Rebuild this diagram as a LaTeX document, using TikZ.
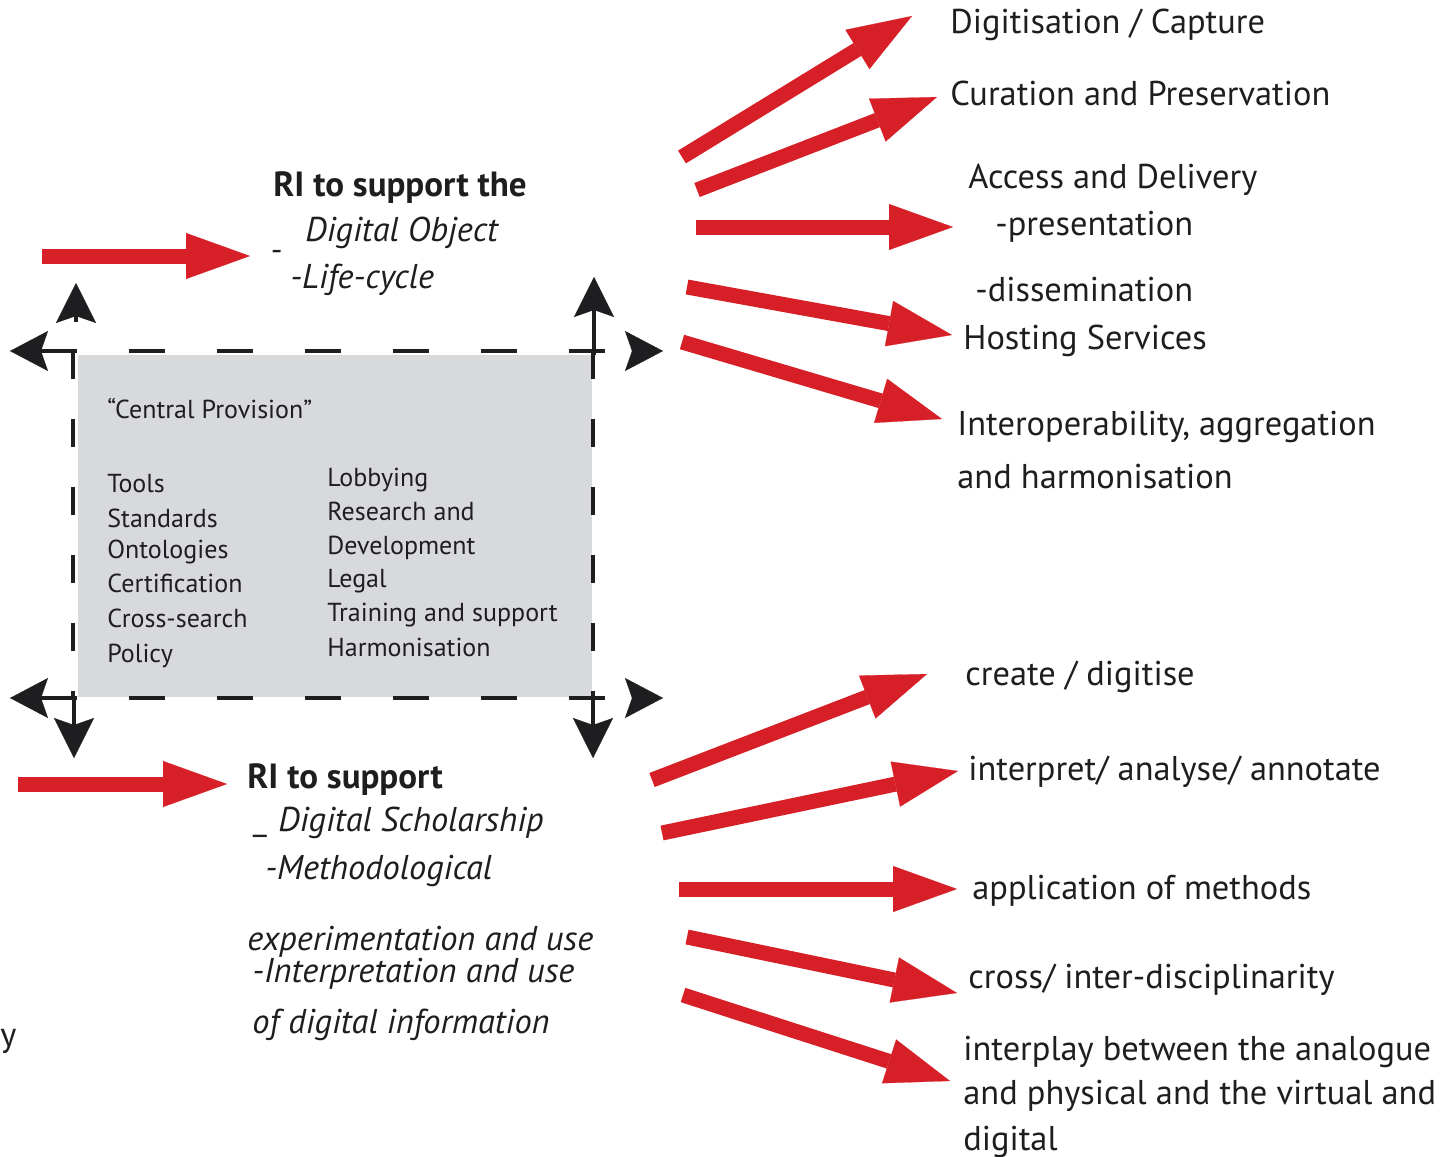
\documentclass[tikz,border=0pt]{standalone}
\usepackage{fontspec}
\setmainfont{PT Sans}
\usetikzlibrary{arrows.meta}
\definecolor{arrowred}{RGB}{215,31,39}
\definecolor{panelgrey}{RGB}{216,217,219}
\definecolor{ink}{RGB}{30,30,32}
\begin{document}
\begin{tikzpicture}[x=0.5pt,y=-0.5pt,
  redarrow/.style={draw=arrowred, line width=7.5pt,
    -{Triangle[length=32pt,width=23pt,line width=0.1pt,fill=arrowred]}},
  blkline/.style={draw=ink, line width=1.7pt},
  hdash/.style={blkline, dash pattern=on 18pt off 26pt},
  vdash/.style={blkline, dash pattern=on 14pt off 20pt},
  blkhead/.style={Stealth[length=20pt,width=20pt,inset=3.5pt,line width=0.1pt]},
  blktip/.style={blkline, -{Stealth[length=20pt,width=20pt,inset=3.5pt,line width=0.1pt]}},
  blktips/.style={hdash, {Stealth[length=19pt,width=20pt,inset=3.5pt,line width=0.1pt]}-{Stealth[length=19pt,width=20pt,inset=3.5pt,line width=0.1pt]}},
  lab/.style={anchor=base west, inner sep=0pt, text=ink, font=\fontsize{17.2}{20}\selectfont},
  boxtxt/.style={anchor=base west, inner sep=0pt, text=ink, font=\fontsize{13}{15}\selectfont},
  headtxt/.style={anchor=base west, inner sep=0pt, text=ink, font=\fontsize{17.5}{20}\selectfont\bfseries},
  itxt/.style={anchor=base west, inner sep=0pt, text=ink, font=\fontsize{17.2}{20}\selectfont\itshape}
]
\useasboundingbox (0,0) rectangle (1452,1157);

% grey panel of the central provision
\fill[panelgrey] (78,355) rectangle (592,697);

% dashed frame with outward arrows
\coordinate (tl) at (10,351);  \coordinate (tr) at (663,351);
\coordinate (bl) at (10,698);  \coordinate (br) at (663,698);
\draw[blktips] (tl) -- (tr);
\draw[blktips] (bl) -- (br);
\coordinate (vl1) at (73,351); \coordinate (vl2) at (73,698);
\coordinate (vr1) at (593,351); \coordinate (vr2) at (593,698);
\draw[vdash] (vl1) -- (vl2);
\draw[vdash] (vr1) -- (vr2);
\coordinate (ul0) at (76,322); \coordinate (ul1) at (76,283);
\coordinate (ur0) at (594,355); \coordinate (ur1) at (594,277);
\coordinate (dl0) at (74,698); \coordinate (dl1) at (74,758);
\coordinate (dr0) at (593,698); \coordinate (dr1) at (593,758);
\draw[blktip] (ul0) -- (ul1);
\draw[blktip] (ur0) -- (ur1);
\draw[blktip] (dl0) -- (dl1);
\draw[blktip] (dr0) -- (dr1);

% panel contents
\node[boxtxt] (cp) at (107,418) {“Central Provision”};
\node[boxtxt] (c1) at (107,492) {Tools};
\node[boxtxt] (c2) at (107,527) {Standards};
\node[boxtxt] (c3) at (107,558) {Ontologies};
\node[boxtxt] (c4) at (107,592) {Certification};
\node[boxtxt] (c5) at (107,627) {Cross-search};
\node[boxtxt] (c6) at (107,662) {Policy};
\node[boxtxt] (d1) at (327,486) {Lobbying};
\node[boxtxt] (d2) at (327,520) {Research and};
\node[boxtxt] (d3) at (327,554) {Development};
\node[boxtxt] (d4) at (327,587) {Legal};
\node[boxtxt] (d5) at (327,621) {Training and support};
\node[boxtxt] (d6) at (327,656) {Harmonisation};

% upper heading
\node[headtxt] (h1) at (273,196) {RI to support the};
\node[itxt] (h1a) at (305,241) {Digital Object};
\node[itxt] (h1d) at (270,261) {-};
\node[itxt] (h1b) at (290,288) {-Life-cycle};

% lower heading
\node[headtxt] (h2) at (247,788) {RI to support};
\node[itxt] (h2u) at (254,830) {\_};
\node[itxt] (h2a) at (278,831) {Digital Scholarship};
\node[itxt] (h2b) at (265,879) {-Methodological};
\node[itxt] (h2c) at (247,950) {experimentation and use};
\node[itxt] (h2d) at (252,982) {-Interpretation and use};
\node[itxt] (h2e) at (252,1033) {of digital information};
\node[lab] (yy) at (0,1046) {y};

% feeding arrows on the left
\coordinate (la0) at (42,256);  \coordinate (la1) at (250,256);
\coordinate (lb0) at (18,784);  \coordinate (lb1) at (227,784);
\draw[redarrow] (la0) -- (la1);
\draw[redarrow] (lb0) -- (lb1);

% upper outcomes
\node[lab] (t1) at (950,33) {Digitisation / Capture};
\node[lab] (t2) at (950,105) {Curation and Preservation};
\node[lab] (t3) at (968,188) {Access and Delivery};
\node[lab] (t3b) at (995,235) {-presentation};
\node[lab] (t3c) at (975,301) {-dissemination};
\node[lab] (t4) at (963,349) {Hosting Services};
\node[lab] (t5) at (957,435) {Interoperability, aggregation};
\node[lab] (t5b) at (957,488) {and harmonisation};

\coordinate (a10) at (682,157); \coordinate (a11) at (912,16);
\coordinate (a20) at (697,190); \coordinate (a21) at (937,97);
\coordinate (a30) at (696,227); \coordinate (a31) at (953,227);
\coordinate (a40) at (687,287); \coordinate (a41) at (952,335);
\coordinate (a50) at (682,342); \coordinate (a51) at (942,419);
\draw[redarrow] (a10) -- (a11);
\draw[redarrow] (a20) -- (a21);
\draw[redarrow] (a30) -- (a31);
\draw[redarrow] (a40) -- (a41);
\draw[redarrow] (a50) -- (a51);

% lower outcomes
\node[lab] (u1) at (965,685) {create / digitise};
\node[lab] (u2) at (968,780) {interpret/ analyse/ annotate};
\node[lab] (u3) at (972,899) {application of methods};
\node[lab] (u4) at (968,988) {cross/ inter-disciplinarity};
\node[lab] (u5) at (963,1060) {interplay between the analogue};
\node[lab] (u5b) at (963,1104) {and physical and the virtual and};
\node[lab] (u5c) at (963,1150) {digital};

\coordinate (b10) at (652,780); \coordinate (b11) at (927,674);
\coordinate (b20) at (662,833); \coordinate (b21) at (958,771);
\coordinate (b30) at (679,889); \coordinate (b31) at (957,889);
\coordinate (b40) at (687,937); \coordinate (b41) at (957,993);
\coordinate (b50) at (683,995); \coordinate (b51) at (950,1081);
\draw[redarrow] (b10) -- (b11);
\draw[redarrow] (b20) -- (b21);
\draw[redarrow] (b30) -- (b31);
\draw[redarrow] (b40) -- (b41);
\draw[redarrow] (b50) -- (b51);
\end{tikzpicture}
\end{document}
